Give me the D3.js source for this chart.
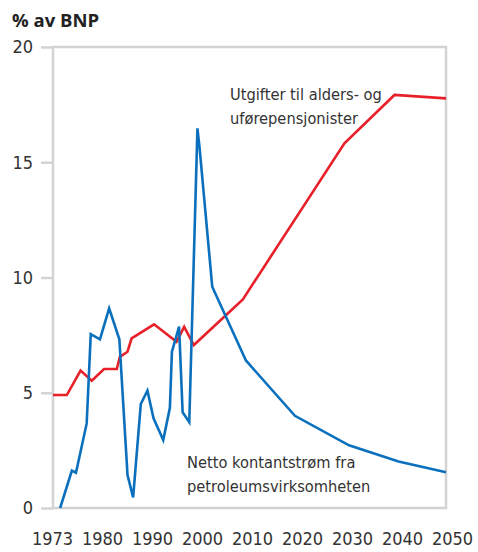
<!DOCTYPE html>
<html><head><meta charset="utf-8">
<script src="https://cdn.jsdelivr.net/npm/d3@7"></script>
<style>html,body{margin:0;padding:0;background:#fff;}</style>
</head><body>
<svg id="chart" width="478" height="552"></svg>
<script>
const title = "% av BNP";
const yTicks = [0, 5, 10, 15, 20];
const xTickLabels = ["1973","1980","1990","2000","2010","2020","2030","2040","2050"];
// Utgifter til alders- og uførepensjonister
const pensionYears  = [1973, 1975.7, 1978.4, 1980.6, 1983.0, 1985.5, 1986.1, 1987.6, 1988.4, 1992.8, 1997.2, 1998.7, 2000.6, 2010.2, 2030.1, 2039.9, 2050];
const pensionValues = [4.9, 4.9, 5.96, 5.52, 6.03, 6.03, 6.56, 6.78, 7.36, 7.97, 7.21, 7.86, 7.07, 9.05, 15.82, 17.92, 17.77];
// Netto kontantstrøm fra petroleumsvirksomheten
const petroYears  = [1974.4, 1976.7, 1977.5, 1979.6, 1980.4, 1982.2, 1984.0, 1986.0, 1987.6, 1988.7, 1990.2, 1991.5, 1992.7, 1994.6, 1995.9, 1996.3, 1997.7, 1998.4, 1999.7, 2001.3, 2001.7, 2004.2, 2010.8, 2020.4, 2031.0, 2040.7, 2050];
const petroValues = [0, 1.62, 1.53, 3.67, 7.54, 7.32, 8.66, 7.32, 1.43, 0.46, 4.51, 5.09, 3.89, 2.95, 4.35, 6.78, 7.87, 4.15, 3.72, 16.47, 15.67, 9.6, 6.4, 4.0, 2.72, 2.02, 1.55];
const pensionLabel = ["Utgifter til alders- og", "uførepensjonister"];
const petroLabel = ["Netto kontantstrøm fra", "petroleumsvirksomheten"];

const svg = d3.select("#chart");
const L = 53, R = 446, T = 47, B = 508;
const x = d3.scaleLinear().domain([1973, 2050]).range([L, R]);
const y = d3.scaleLinear().domain([0, 20]).range([B, T]);
const xLab = d3.scalePoint().domain(xTickLabels).range([52, 452]);
const font = "'DejaVu Sans Condensed','Liberation Sans',sans-serif";
const grey = "#d3d3d3";

// frame
svg.append("rect").attr("x", L).attr("y", T).attr("width", R - L).attr("height", B - T)
  .attr("fill", "none").attr("stroke", grey).attr("stroke-width", 2.5);

// y axis
const yAxis = svg.append("g").attr("transform", `translate(${L},0)`)
  .call(d3.axisLeft(y).tickValues(yTicks).tickSize(12).tickPadding(8).tickFormat(d3.format("d")));
yAxis.select(".domain").remove();
yAxis.selectAll("line").attr("stroke", grey).attr("stroke-width", 2.5);
yAxis.selectAll("text").attr("font-family", font).attr("font-size", 18).attr("fill", "#333");

// x labels
const xAxis = svg.append("g").attr("transform", `translate(0,${B})`)
  .call(d3.axisBottom(xLab).tickSize(0).tickPadding(24));
xAxis.select(".domain").remove();
xAxis.selectAll("text").attr("font-family", font).attr("font-size", 18).attr("fill", "#333");

const line = d3.line().x(d => x(d[0])).y(d => y(d[1]));
svg.append("path").datum(pensionYears.map((d, i) => [d, pensionValues[i]]))
  .attr("d", line).attr("fill", "none").attr("stroke", "#e8202a").attr("stroke-width", 2.6)
  .attr("stroke-linejoin", "miter");
svg.append("path").datum(petroYears.map((d, i) => [d, petroValues[i]]))
  .attr("d", line).attr("fill", "none").attr("stroke", "#0a70bd").attr("stroke-width", 2.6)
  .attr("stroke-linejoin", "miter");

svg.append("text").attr("x", 12).attr("y", 27).text(title)
  .attr("font-family", "'Open Sans','Liberation Sans',sans-serif").attr("font-weight", "bold")
  .attr("font-size", 18.5).attr("fill", "#222");

function label(lines, x0, y0) {
  const t = svg.append("text").attr("font-family", font).attr("font-size", 16.3).attr("fill", "#333");
  lines.forEach((s, i) => t.append("tspan").attr("x", x0).attr("y", y0 + i * 24).text(s));
}
label(pensionLabel, 230, 100);
label(petroLabel, 187, 468);
</script>
</body></html>
